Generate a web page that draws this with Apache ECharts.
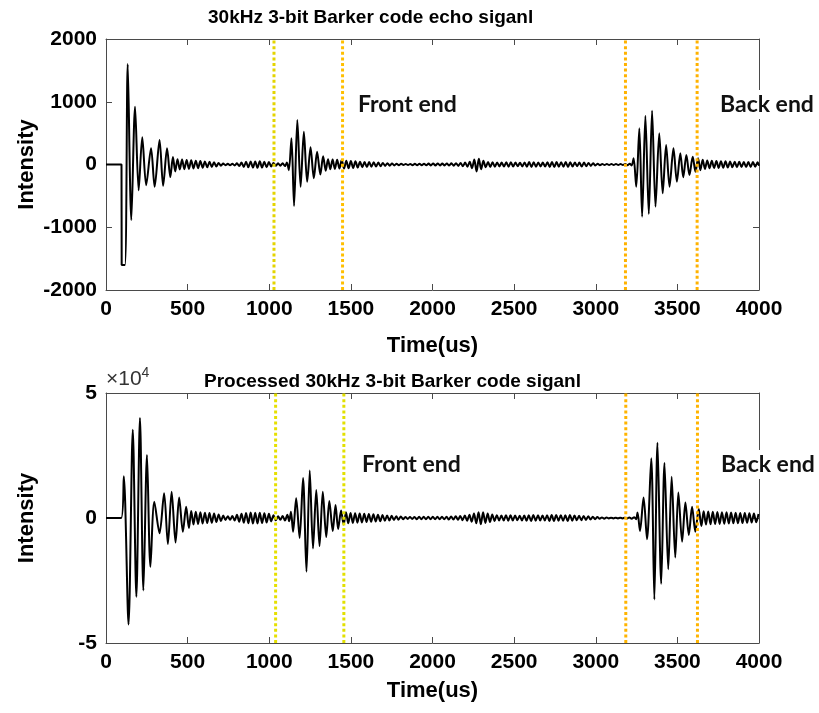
<!DOCTYPE html>
<html>
<head>
<meta charset="utf-8">
<script src="https://cdn.jsdelivr.net/npm/echarts@6/dist/echarts.min.js"></script>
<style>
  html, body { margin: 0; padding: 0; background: #fff; }
  #chart { width: 819px; height: 713px; }
</style>
</head>
<body>
<div id="chart"></div>
<script>
// ---- Echo signal (time in us, intensity) ----
const echoHead = [[0,0],[95,0],[96,-1600],[116,-1600],[133,1600],[155,-885],[178,920],[200,-410],[222,435],[246,-330],[276,260],[298,-355],[328,390],[350,-340],[374,260],[394,-200],[410,120],[424,-110]];
const echoGap1 = [[438,85],[452,-80],[466,78],[480,-75],[494,72],[508,-70],[522,68],[536,-62],[550,60],[564,-58],[578,55],[592,-50],[606,48],[620,-45],[634,42],[648,-38],[662,35],[676,-30],[690,25],[704,-18],[718,14],[732,-12],[746,10],[760,-12],[774,12],[788,-15],[802,18],[816,-24],[830,30],[844,-38],[858,42],[872,-45],[886,48],[900,-50],[914,48],[928,-52],[942,50],[956,-48],[970,45],[984,-45],[998,40],[1012,-32],[1026,25],[1040,-20],[1054,18],[1068,-18],[1082,20],[1096,-25],[1108,30]];
const echoFront = [[1120,-90],[1136,420],[1152,-660],[1172,710],[1192,-355],[1212,520],[1232,-275],[1253,275],[1273,-220],[1293,205],[1313,-160],[1330,130],[1346,-100]];
const echoGap2 = [[1360,85],[1374,-75],[1388,80],[1402,-70],[1416,75],[1430,-65],[1444,70],[1458,-65],[1472,60],[1486,-60],[1500,55],[1514,-55],[1528,50],[1542,-48],[1556,45],[1570,-42],[1584,40],[1598,-40],[1612,38],[1626,-35],[1640,35],[1654,-32],[1668,30],[1682,-28],[1696,25],[1710,-22],[1724,20],[1738,-18],[1752,15],[1766,-14],[1780,12],[1794,-10],[1808,10],[1822,-8],[1836,8],[1850,-8],[1864,8],[1878,-10],[1892,10],[1906,-10],[1920,12],[1934,-12],[1948,12],[1962,-12],[1976,14],[1990,-14],[2004,15],[2018,-15],[2032,15],[2046,-14],[2060,14],[2074,-14],[2088,15],[2102,-16],[2116,18],[2130,-18],[2144,20],[2158,-22],[2172,25],[2186,-28],[2200,30],[2214,-35],[2228,45],[2242,-60],[2256,80],[2270,-110],[2284,90],[2298,-75],[2312,60],[2326,-45],[2340,40],[2354,-38],[2368,35],[2382,-35],[2396,32],[2410,-30],[2424,30],[2438,-32],[2452,35],[2466,-35],[2480,35],[2494,-32],[2508,30],[2522,-28],[2536,28],[2550,-30],[2564,32],[2578,-35],[2592,38],[2606,-38],[2620,35],[2634,-35],[2648,32],[2662,-30],[2676,30],[2690,-32],[2704,35],[2718,-38],[2732,40],[2746,-40],[2760,38],[2774,-35],[2788,35],[2802,-35],[2816,38],[2830,-38],[2844,35],[2858,-32],[2872,30],[2886,-28],[2900,30],[2914,-32],[2928,30],[2942,-28],[2956,25],[2970,-22],[2984,20],[2998,-15],[3012,12],[3026,-10],[3040,8],[3054,-8],[3068,8],[3082,-8],[3096,8],[3110,-8],[3124,8],[3138,-8],[3152,8],[3166,-8],[3180,8],[3194,-10],[3208,12],[3220,-15]];
const echoBack = [[3232,100],[3248,-355],[3267,577],[3284,-832],[3304,775],[3325,-790],[3345,858],[3366,-672],[3389,497],[3410,-460],[3431,311],[3452,-354],[3476,258],[3497,-274],[3518,178],[3536,-204],[3555,151],[3574,-167],[3594,124],[3611,-115],[3627,99]];
const echoTail = [[3641,-90],[3655,75],[3669,-70],[3683,65],[3697,-60],[3711,58],[3725,-55],[3739,55],[3753,-55],[3767,52],[3781,-50],[3795,50],[3809,-48],[3823,48],[3837,-45],[3851,45],[3865,-42],[3879,42],[3893,-40],[3907,40],[3921,-40],[3935,38],[3949,-38],[3963,38],[3977,-36],[3991,35],[4000,-20]];

// ---- Processed signal (time in us, intensity) ----
const procHead = [[0,0],[93,0],[109,16700],[138,-42600],[164,35300],[186,-31500],[208,40000],[229,-29000],[251,25200],[272,-19500],[296,6500],[328,-6100],[356,9900],[379,-10400],[402,10500],[426,-9800],[448,8200],[471,-5500],[491,4500],[508,-4000]];
const procGap1 = [[522,2800],[536,-2600],[550,2500],[564,-2400],[578,2300],[592,-2200],[606,2100],[620,-2000],[634,2000],[648,-1900],[662,1800],[676,-1600],[690,1400],[704,-1200],[718,1000],[732,-800],[746,700],[760,-700],[774,800],[788,-1000],[802,1300],[816,-1500],[830,1700],[844,-1900],[858,2000],[872,-2100],[886,2200],[900,-2200],[914,2100],[928,-2200],[942,2100],[956,-2000],[970,1900],[984,-1800],[998,1700],[1012,-1400],[1026,1100],[1040,-900],[1054,700],[1068,-700],[1082,800],[1096,-1000]];
const procFront = [[1111,1300],[1122,-1300],[1133,2500],[1146,-5500],[1165,7900],[1186,-8000],[1207,16000],[1228,-21500],[1248,19000],[1268,-12200],[1288,11200],[1308,-11200],[1328,10500],[1349,-7600],[1368,6800],[1389,-5200],[1406,5200],[1422,-4400],[1440,3000],[1456,-2600]];
const procGap2 = [[1470,2300],[1484,-2100],[1498,2000],[1512,-2000],[1526,1900],[1540,-1900],[1554,1800],[1568,-1800],[1582,1700],[1596,-1600],[1610,1600],[1624,-1500],[1638,1500],[1652,-1400],[1666,1300],[1680,-1300],[1694,1200],[1708,-1100],[1722,1000],[1736,-1000],[1750,900],[1764,-800],[1778,700],[1792,-700],[1806,600],[1820,-500],[1834,400],[1848,-400],[1862,400],[1876,-400],[1890,400],[1904,-500],[1918,500],[1932,-500],[1946,500],[1960,-500],[1974,500],[1988,-500],[2002,500],[2016,-500],[2030,500],[2044,-500],[2058,500],[2072,-500],[2086,500],[2100,-600],[2114,600],[2128,-600],[2142,700],[2156,-700],[2170,800],[2184,-900],[2198,1000],[2212,-1100],[2226,1300],[2240,-1500],[2254,1800],[2268,-2100],[2282,2300],[2296,-2500],[2310,2300],[2324,-2000],[2338,1800],[2352,-1600],[2366,1400],[2380,-1200],[2394,1100],[2408,-1000],[2422,1000],[2436,-1000],[2450,1100],[2464,-1100],[2478,1100],[2492,-1000],[2506,1000],[2520,-900],[2534,900],[2548,-1000],[2562,1000],[2576,-1100],[2590,1100],[2604,-1200],[2618,1200],[2632,-1100],[2646,1100],[2660,-1000],[2674,1000],[2688,-1000],[2702,1100],[2716,-1200],[2730,1200],[2744,-1200],[2758,1200],[2772,-1100],[2786,1100],[2800,-1100],[2814,1100],[2828,-1200],[2842,1200],[2856,-1100],[2870,1000],[2884,-900],[2898,900],[2912,-900],[2926,800],[2940,-800],[2954,700],[2968,-600],[2982,500],[2996,-450],[3010,400],[3024,-300],[3038,250],[3052,-250],[3066,200],[3080,-150],[3094,150],[3108,-150],[3122,150],[3136,-150],[3150,150],[3164,-150],[3178,150],[3192,-150],[3206,200],[3220,-250]];
const procBack = [[3236,300],[3247,-500],[3256,2200],[3271,-5200],[3293,8200],[3314,-8500],[3340,23900],[3359,-32600],[3378,30100],[3401,-26300],[3421,22000],[3444,-20500],[3465,16500],[3487,-15800],[3506,10200],[3529,-9500],[3549,6200],[3570,-6800],[3590,4500],[3610,-5500],[3631,3600],[3647,-3200]];
const procTail = [[3661,2700],[3675,-2600],[3689,2600],[3703,-2500],[3717,2500],[3731,-2400],[3745,2400],[3759,-2400],[3773,2300],[3787,-2300],[3801,2300],[3815,-2200],[3829,2200],[3843,-2100],[3857,2100],[3871,-2100],[3885,2000],[3899,-2000],[3913,2000],[3927,-1900],[3941,1900],[3955,-1800],[3969,1800],[3983,-1700],[3997,1600]];

// Window boundaries (us) and their dot colours
const echoMarks = [1029, 1449, 3182, 3621];
const procMarks = [1039, 1457, 3184, 3623];
const echoMarkColors = ['#e4d400', '#ffbf00', '#ffb200', '#ffb200'];
const procMarkColors = ['#e6e000', '#e2e000', '#ffb400', '#ffb400'];

// Axis ranges and tick spacing
const timeRange = [0, 4000], timeStep = 500;
const echoRange = [-2000, 2000], echoStep = 1000;
const procRange = [-50000, 50000], procStep = 50000;

const echoSignal = [].concat(echoHead, echoGap1, echoFront, echoGap2, echoBack, echoTail);
const procSignal = [].concat(procHead, procGap1, procFront, procGap2, procBack, procTail);

const FONT = 'Liberation Sans';
const INK = '#000';
const FRAME = '#4a4a4a';

function xAxes(grid, nameGap) {
  const base = {
    gridIndex: grid, type: 'value', min: timeRange[0], max: timeRange[1], interval: timeStep,
    axisLine: { show: true, onZero: false, lineStyle: { color: FRAME, width: 1 } },
    axisTick: { show: true, inside: true, length: 6, lineStyle: { color: FRAME } },
    splitLine: { show: false }
  };
  return [
    Object.assign({}, base, {
      position: 'bottom',
      axisLabel: { fontFamily: FONT, fontWeight: 'bold', fontSize: 21, color: INK, margin: 9,
                   formatter: v => String(v) },
      name: 'Time(us)', nameLocation: 'middle', nameGap: nameGap, nameMoveOverlap: false,
      nameTextStyle: { fontFamily: FONT, fontWeight: 'bold', fontSize: 22, color: INK }
    }),
    Object.assign({}, base, { position: 'top', axisLabel: { show: false } })
  ];
}

function yAxes(grid, range, step, fmt) {
  const base = {
    gridIndex: grid, type: 'value', min: range[0], max: range[1], interval: step,
    axisLine: { show: true, onZero: false, lineStyle: { color: FRAME, width: 1 } },
    axisTick: { show: true, inside: true, length: 6, lineStyle: { color: FRAME } },
    splitLine: { show: false }
  };
  return [
    Object.assign({}, base, {
      position: 'left',
      axisLabel: { fontFamily: FONT, fontWeight: 'bold', fontSize: 21, color: INK, margin: 9, formatter: fmt },
      name: 'Intensity', nameLocation: 'middle', nameGap: 68, nameRotate: 90, nameMoveOverlap: false,
      nameTextStyle: { fontFamily: FONT, fontWeight: 'bold', fontSize: 22, color: INK }
    }),
    Object.assign({}, base, { position: 'right', axisLabel: { show: false } })
  ];
}

function markSeries(marks, colors, xi, yi, range) {
  return marks.map((t, i) => ({
    type: 'line', xAxisIndex: xi, yAxisIndex: yi,
    data: [[t, range[0]], [t, range[1]]],
    symbol: 'none', silent: true, z: 4,
    lineStyle: { color: colors[i], width: 3, type: [3, 2.6] }
  }));
}

function labelText(text, x, y) {
  return {
    type: 'text', left: x, top: y, z: 10,
    style: {
      text: text, fontFamily: 'Lato', fontWeight: 'bold', fontSize: 23, fill: '#111',
      backgroundColor: '#fff', padding: [3, 4, 3, 4]
    }
  };
}

const chart = echarts.init(document.getElementById('chart'), null, { renderer: 'canvas' });

chart.setOption({
  animation: false,
  backgroundColor: '#fff',
  title: [
    { text: '30kHz 3-bit Barker code echo siganl', left: 203, top: 3,
      textStyle: { fontFamily: FONT, fontWeight: 'bold', fontSize: 19, color: INK } },
    { text: 'Processed 30kHz 3-bit Barker code siganl', left: 199, top: 367,
      textStyle: { fontFamily: FONT, fontWeight: 'bold', fontSize: 19, color: INK } }
  ],
  grid: [
    { left: 106, top: 39, width: 653, height: 251 },
    { left: 106, top: 393, width: 653, height: 250 }
  ],
  xAxis: [].concat(xAxes(0, 45), xAxes(1, 37)),
  yAxis: [].concat(
    yAxes(0, echoRange, echoStep, v => String(v)),
    yAxes(1, procRange, procStep, v => String(v / 10000))
  ),
  series: [
    { type: 'line', xAxisIndex: 0, yAxisIndex: 0, data: echoSignal, symbol: 'none', z: 3,
      smooth: 0.3, lineStyle: { color: '#000', width: 2 } },
    { type: 'line', xAxisIndex: 2, yAxisIndex: 2, data: procSignal, symbol: 'none', z: 3,
      smooth: 0.3, lineStyle: { color: '#000', width: 2 } }
  ].concat(
    markSeries(echoMarks, echoMarkColors, 0, 0, echoRange),
    markSeries(procMarks, procMarkColors, 2, 2, procRange)
  ),
  graphic: [
    labelText('Front end', 354, 90),
    labelText('Back end', 716, 90),
    labelText('Front end', 358, 450),
    labelText('Back end', 717, 450),
    {
      type: 'text', left: 106, top: 366, z: 10,
      style: {
        text: '×10{s|4}', fontFamily: FONT, fontSize: 21, fill: '#333',
        rich: { s: { fontFamily: FONT, fontSize: 14, fill: '#333', verticalAlign: 'top', padding: [0, 0, 12, 0] } }
      }
    }
  ]
});
</script>
</body>
</html>
